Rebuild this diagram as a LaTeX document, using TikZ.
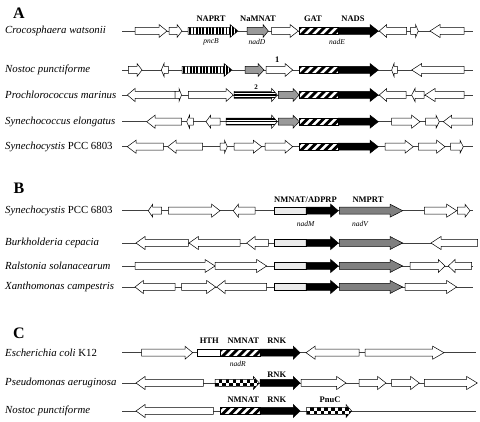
\documentclass[tikz,border=0pt]{standalone}
\usepackage{fontspec}
\setmainfont{Liberation Serif}
\usetikzlibrary{calc}
\tikzstyle{Chromosome}=[draw=black!75, line width=0.5pt]
\tikzstyle{OutlineGene}=[draw=black, line width=0.5pt]
\tikzstyle{WhiteGene}=[OutlineGene, fill=white]
\tikzstyle{GreyGene}=[WhiteGene, fill=black!40]
\tikzstyle{DarkGreyGene}=[WhiteGene, fill=black!50]
\tikzstyle{BlackGene}=[WhiteGene, fill=black]
\tikzstyle{PaleGene}=[WhiteGene, fill=black!8]
\tikzstyle{Species}=[anchor=west, inner sep=0pt, font=\fontsize{10.8}{12}\selectfont\itshape]
\tikzstyle{GeneName}=[inner sep=0pt, font=\fontsize{8.5}{10}\selectfont\bfseries]
\tikzstyle{GeneSymbol}=[inner sep=0pt, font=\fontsize{7.5}{9}\selectfont\itshape]
\tikzstyle{PanelLabel}=[inner sep=0pt, font=\fontsize{16}{18}\selectfont\bfseries]

% gene arrow: tail, head base, tip, y
\newcommand{\gene}[5][WhiteGene]{%
  \draw[#1] (#2,#5-3.5) -- (#3,#5-3.5) -- (#3,#5-6.5) -- (#4,#5) -- (#3,#5+6.5) -- (#3,#5+3.5) -- (#2,#5+3.5) -- cycle;}
% diagonal stripes box: from, to, y
\newcommand{\stripebox}[3]{%
  \begin{scope}
    \clip (#1,#3-3.5) rectangle (#2,#3+3.5);
    \fill[white] (#1,#3-3.5) rectangle (#2,#3+3.5);
    \foreach \k in {0,...,8}
      \fill (#1-8+8*\k,#3+3.5) -- ++(4,0) -- ++(7,-7) -- ++(-4,0) -- cycle;
  \end{scope}
  \draw[OutlineGene] (#1,#3-3.5) rectangle (#2,#3+3.5);}
% vertical bars gene
\newcommand{\bargene}[4]{%
  \begin{scope}
    \clip (#1,#4-3.5) -- (#2,#4-3.5) -- (#2,#4-6.5) -- (#3,#4) -- (#2,#4+6.5) -- (#2,#4+3.5) -- (#1,#4+3.5) -- cycle;
    \fill[white] (#1,#4-7) rectangle (#3,#4+7);
    \foreach \k in {0,...,15}
      \fill (#1+1.2+3.3*\k,#4-7) rectangle ++(1.9,14);
  \end{scope}
  \gene[OutlineGene]{#1}{#2}{#3}{#4}}
% horizontal lines gene
\newcommand{\linegene}[4]{%
  \begin{scope}
    \clip (#1,#4-3.5) -- (#2,#4-3.5) -- (#2,#4-6.5) -- (#3,#4) -- (#2,#4+6.5) -- (#2,#4+3.5) -- (#1,#4+3.5) -- cycle;
    \fill[white] (#1,#4-7) rectangle (#3,#4+7);
    \foreach \d in {1,2,3}
      \draw[line width=1.3pt] (#1,#4-5.2+2.6*\d) -- (#3,#4-5.2+2.6*\d);
  \end{scope}
  \gene[OutlineGene]{#1}{#2}{#3}{#4}}
% checkerboard gene
\newcommand{\checkgene}[4]{%
  \begin{scope}
    \clip (#1,#4-3.5) -- (#2,#4-3.5) -- (#2,#4-6.5) -- (#3,#4) -- (#2,#4+6.5) -- (#2,#4+3.5) -- (#1,#4+3.5) -- cycle;
    \fill[white] (#1,#4-7) rectangle (#3,#4+7);
    \foreach \k in {0,...,14}{
      \foreach \r in {0,...,3}{
        \pgfmathtruncatemacro{\cpar}{mod(\k+\r,2)}
        \ifnum\cpar=0 \fill (#1+3.5*\k,#4-7+3.5*\r) rectangle ++(3.5,3.5);\fi
      }}
  \end{scope}
  \gene[OutlineGene]{#1}{#2}{#3}{#4}}
% nadE (GAT + NADS)
\newcommand{\nadE}[1]{%
  \stripebox{299.3}{338.3}{#1}
  \gene[BlackGene]{338.3}{370}{378.3}{#1}}
% nadM + nadV
\newcommand{\nadMV}[1]{%
  \draw[PaleGene] (274.3,#1-3.5) rectangle (306,#1+3.5);
  \gene[BlackGene]{306}{330.7}{338.3}{#1}
  \gene[DarkGreyGene]{339.3}{390}{402.7}{#1}}

\begin{document}
\begin{tikzpicture}[x=1pt,y=-1pt]
\useasboundingbox (0,0) rectangle (480,422);

% Panel A
\node[PanelLabel](PanA) at (19,13) {A};
\node[Species](SpA1) at (5,31) {Crocosphaera watsonii};
\node[Species](SpA2) at (5,70) {Nostoc punctiforme};
\node[Species](SpA3) at (5,95) {Prochlorococcus marinus};
\node[Species](SpA4) at (5,121.7) {Synechococcus elongatus};
\node[Species](SpA5) at (5,146.7) {Synechocystis \upshape PCC 6803};
\foreach \y in {31,70,95,121.7,146.7}
  \draw[Chromosome] (122,\y) -- (473,\y);

\gene{135}{159}{167}{31}
\gene{169}{177}{182}{31}
\bargene{188}{230}{238}{31}
\gene[GreyGene]{247}{263}{268.3}{31}
\gene{271.7}{290}{298.3}{31}
\nadE{31}
\gene{406.7}{386.7}{379.3}{31}
\gene{410.7}{415.5}{418.3}{31}
\gene{464}{440}{430}{31}
\node[GeneName](NAPRT) at (211,19) {NAPRT};
\node[GeneName](NaMNAT) at (258,19) {NaMNAT};
\node[GeneName](GAT) at (313,19) {GAT};
\node[GeneName](NADS) at (353,19) {NADS};
\node[GeneSymbol](pncB) at (211,42) {pncB};
\node[GeneSymbol](nadD) at (257,42) {nadD};
\node[GeneSymbol](nadE) at (337,42) {nadE};

\gene{128.3}{137}{142}{70}
\gene{168.3}{164}{161.3}{70}
\bargene{182}{224}{232}{70}
\gene[GreyGene]{245}{258}{264}{70}
\gene{266}{285}{292.7}{70}
\nadE{70}
\gene{397.3}{394}{391.7}{70}
\gene{464}{421.7}{411.7}{70}
\node[GeneName](GeneOne) at (277.3,60) {1};

\gene{175}{135}{127.3}{95}
\gene{175}{179}{181.5}{95}
\gene{188.3}{226}{233.3}{95}
\linegene{234}{271.7}{277.3}{95}
\gene[GreyGene]{278.3}{293}{299.3}{95}
\nadE{95}
\gene{406}{386.7}{379.3}{95}
\gene{424}{415}{411.7}{95}
\gene{464}{435}{425}{95}
\node[GeneName, font=\fontsize{7}{8}\selectfont\bfseries](GeneTwo) at (256,87) {2};

\gene{181.7}{155}{146.7}{121.7}
\gene{193.3}{189.5}{186.7}{121.7}
\gene{220}{210.7}{206}{121.7}
\linegene{226}{271.7}{277.3}{121.7}
\gene[GreyGene]{278.3}{293}{299.3}{121.7}
\nadE{121.7}
\gene{391.7}{411.7}{420}{121.7}
\gene{425.7}{436}{439.3}{121.7}
\gene{472.3}{451.7}{443.3}{121.7}

\gene{163.3}{136}{127.3}{146.7}
\gene{202.7}{176}{167.7}{146.7}
\gene{220}{224.5}{227.3}{146.7}
\gene{234}{253.3}{261.7}{146.7}
\gene{265}{285}{292.7}{146.7}
\nadE{146.7}
\gene{385}{405}{413.3}{146.7}
\gene{418.3}{436.7}{445}{146.7}
\gene{450.7}{460}{463.3}{146.7}

% Panel B
\node[PanelLabel](PanB) at (19,188) {B};
\node[Species](SpB1) at (5,210.7) {Synechocystis \upshape PCC 6803};
\node[Species](SpB2) at (5,243) {Burkholderia cepacia};
\node[Species](SpB3) at (5,266) {Ralstonia solanacearum};
\node[Species](SpB4) at (5,287) {Xanthomonas campestris};
\foreach \y in {210.7,243,266,287}
  \draw[Chromosome] (122,\y) -- (473,\y);

\gene{161.7}{152.7}{148.3}{210.7}
\gene{168.3}{211.7}{220}{210.7}
\gene{255}{238.3}{233.3}{210.7}
\nadMV{210.7}
\gene{424.3}{446.7}{456.7}{210.7}
\gene{457.3}{465}{470}{210.7}
\node[GeneName](NMNATADPRP) at (305.5,199.3) {NMNAT/ADPRP};
\node[GeneName](NMPRT) at (368,199.3) {NMPRT};
\node[GeneSymbol](nadM) at (305.7,224.3) {nadM};
\node[GeneSymbol](nadV) at (360,224.3) {nadV};

\gene{188.3}{145}{136}{243}
\gene{240}{198.3}{189}{243}
\gene{268.3}{255}{246.7}{243}
\nadMV{243}
\gene{477.7}{441}{431}{243}

\gene{135}{205}{215}{266}
\gene{215}{256.7}{266.7}{266}
\nadMV{266}
\gene{410}{438.3}{445}{266}
\gene{471.7}{455}{448.3}{266}

\gene{175}{143.3}{135}{287}
\gene{181.7}{206.7}{215.7}{287}
\gene{266.7}{225}{216.7}{287}
\nadMV{287}
\gene{405}{446.7}{456.7}{287}

% Panel C
\node[PanelLabel](PanC) at (19,333) {C};
\node[Species](SpC1) at (5,352.7) {Escherichia coli \upshape K12};
\node[Species](SpC2) at (5,383) {Pseudomonas aeruginosa};
\node[Species](SpC3) at (5,411) {Nostoc punctiforme};
\foreach \y in {352.7,383,411}
  \draw[Chromosome] (122,\y) -- (476,\y);

\gene{141.7}{185}{192.7}{352.7}
\draw[WhiteGene] (197.3,349.2) rectangle (220.7,356.2);
\stripebox{220.7}{260}{352.7}
\gene[BlackGene]{260}{293.3}{300}{352.7}
\gene{359}{315}{306}{352.7}
\gene{365}{432.7}{444}{352.7}
\node[GeneName](HTH) at (209.3,340.7) {HTH};
\node[GeneName](NMNATc) at (243.3,340.7) {NMNAT};
\node[GeneName](RNKa) at (276.7,340.7) {RNK};
\node[GeneSymbol](nadR) at (237.7,364.3) {nadR};

\gene{203.3}{145}{136}{383}
\checkgene{215}{253.3}{259.3}{383}
\gene[BlackGene]{260}{293.3}{300}{383}
\gene{301}{336.7}{346}{383}
\gene{359}{377.7}{386}{383}
\gene{391.7}{410.7}{419.3}{383}
\gene{424.3}{466.7}{477.3}{383}
\node[GeneName](RNKb) at (276.7,374.5) {RNK};

\gene{213.3}{145}{136}{411}
\stripebox{220}{260}{411}
\gene[BlackGene]{260}{293.3}{300}{411}
\checkgene{306.7}{346}{351.7}{411}
\node[GeneName](NMNATd) at (243.3,399.3) {NMNAT};
\node[GeneName](RNKc) at (276.7,399.3) {RNK};
\node[GeneName](PnuC) at (330,399.3) {PnuC};
\end{tikzpicture}
\end{document}
